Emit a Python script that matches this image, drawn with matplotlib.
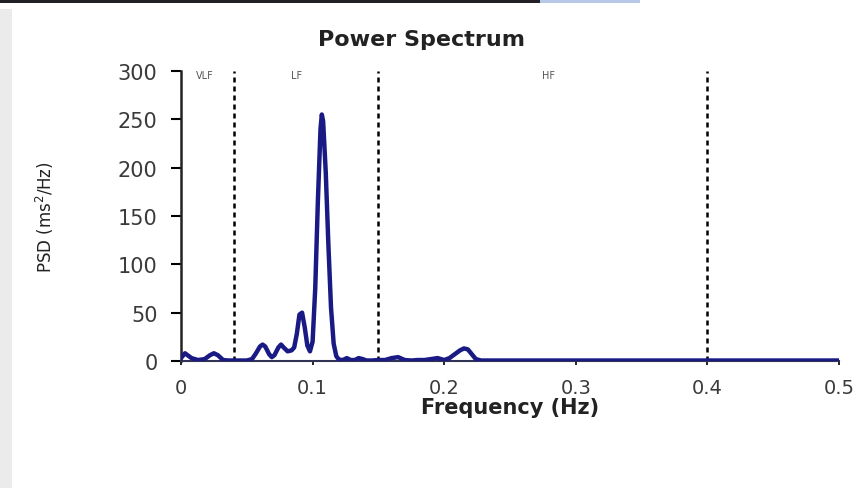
import matplotlib
matplotlib.use("Agg")
import matplotlib.pyplot as plt
from matplotlib.patches import Rectangle

# spectrum (Hz, ms^2/Hz)
freq = [0.000, 0.003, 0.008, 0.013, 0.018, 0.022, 0.025, 0.028, 0.032, 0.036,
        0.040, 0.045, 0.050, 0.054, 0.057, 0.060, 0.062, 0.064, 0.067, 0.069,
        0.071, 0.074, 0.076, 0.078, 0.081, 0.084, 0.086, 0.088, 0.090, 0.092,
        0.094, 0.096, 0.098, 0.100, 0.102, 0.104, 0.106, 0.107, 0.108, 0.110,
        0.112, 0.114, 0.116, 0.118, 0.120, 0.123, 0.126, 0.129, 0.132, 0.135,
        0.138, 0.141, 0.145, 0.150, 0.155, 0.160, 0.165, 0.170, 0.175, 0.180,
        0.185, 0.190, 0.195, 0.200, 0.204, 0.208, 0.212, 0.215, 0.218, 0.221,
        0.224, 0.228, 0.235, 0.250, 0.270, 0.300, 0.330, 0.360, 0.400, 0.450,
        0.500]
psd = [3, 8, 3, 1, 2, 6, 8, 6, 1, 0.5,
       0.5, 0.5, 0.5, 2, 8, 15, 17, 15, 7, 4,
       6, 14, 17, 14, 10, 11, 14, 28, 48, 50,
       35, 16, 10, 20, 75, 165, 240, 255, 248, 195,
       120, 55, 18, 5, 1.5, 1, 3, 1, 1, 3,
       2, 0.5, 0.5, 1, 1, 3, 4, 1, 0.5, 1,
       1, 2, 3, 1, 3, 7, 11, 13, 12, 7,
       2, 0.5, 0.5, 0.5, 0.5, 0.5, 0.5, 0.5, 0.5, 0.5,
       0.5]

bands = ["VLF", "LF", "HF"]
band_label_x = [0.018, 0.088, 0.279]
band_edges = [0.04, 0.15, 0.4]

xticks = [0, 0.1, 0.2, 0.3, 0.4, 0.5]
xticklabels = ["0", "0.1", "0.2", "0.3", "0.4", "0.5"]
yticks = [0, 50, 100, 150, 200, 250, 300]

fig = plt.figure(figsize=(8.64, 4.89), dpi=100)
fig.patch.set_facecolor("white")
# screenshot frame bits
fig.patches.append(Rectangle((0, 0), 12 / 864, 1 - 10 / 489, transform=fig.transFigure,
                             facecolor="#ebebeb", edgecolor="none", zorder=-1))
fig.patches.append(Rectangle((0, 1 - 4 / 489), 540 / 864, 4 / 489, transform=fig.transFigure,
                             facecolor="#222026", edgecolor="none", zorder=-1))
fig.patches.append(Rectangle((540 / 864, 1 - 4 / 489), 100 / 864, 4 / 489, transform=fig.transFigure,
                             facecolor="#b8c8e8", edgecolor="none", zorder=-1))

ax = fig.add_axes([181 / 864, 127 / 489, 658 / 864, 290 / 489])

ax.plot(freq, psd, color="#1a1a85", lw=3.2, solid_joinstyle="round", zorder=3)

for x in band_edges:
    ax.axvline(x, color="black", lw=1.8, linestyle=(0, (2, 1.6)), zorder=2)

for name, x in zip(bands, band_label_x):
    ax.text(x, 296, name, fontsize=7, color="#555555", ha="center", va="center")

ax.set_xlim(0, 0.5)
ax.set_ylim(0, 300)
ax.set_xticks(xticks)
ax.set_xticklabels(xticklabels)
ax.set_yticks(yticks)

for s in ["top", "right"]:
    ax.spines[s].set_visible(False)
ax.spines["left"].set_linewidth(1.8)
ax.spines["bottom"].set_linewidth(1.5)
ax.spines["left"].set_color("#222222")
ax.spines["bottom"].set_color("#333355")

ax.tick_params(axis="y", direction="out", length=7, width=1.5, pad=10,
               labelsize=15, labelcolor="#3a3a3a")
ax.tick_params(axis="x", direction="out", length=3, width=1.2, pad=9,
               labelsize=14, labelcolor="#3a3a3a")

ax.set_ylabel(r"PSD (ms$^2$/Hz)", fontsize=12, color="#222222")
ax.yaxis.set_label_coords(-0.19, 0.5)
ax.set_xlabel("Frequency (Hz)", fontsize=15, fontweight="bold", color="#222222")
ax.xaxis.set_label_coords(0.5, -0.159)
ax.xaxis.label.set_va("center")

fig.text(421 / 864, 1 - 40 / 489, "Power Spectrum", fontsize=16, fontweight="bold",
         color="#222222", ha="center", va="center")

fig.savefig("out.png", dpi=100)
